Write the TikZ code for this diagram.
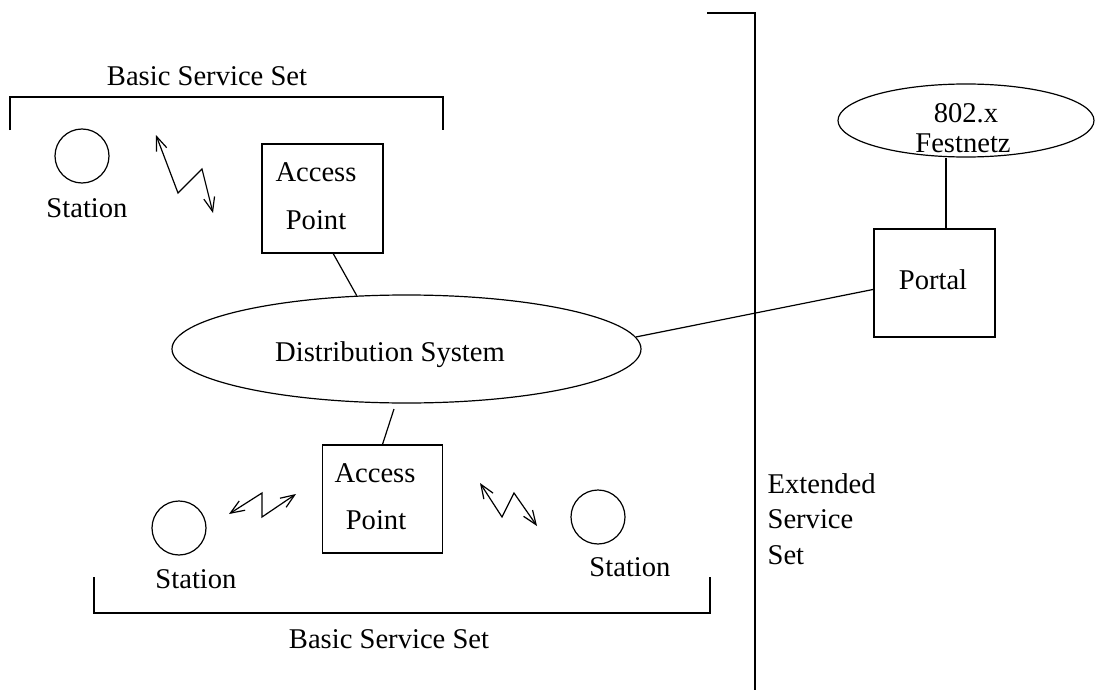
\documentclass[tikz,border=0pt]{standalone}
\usepackage{fontspec}
\setmainfont{Liberation Serif}
\usetikzlibrary{shapes.geometric,arrows.meta}

\begin{document}
\begin{tikzpicture}[x=1pt,y=-1pt,
  line width=1.2pt,
  every node/.style={font=\fontsize{28.6}{34}\selectfont, inner sep=0pt},
  station/.style={draw, circle, minimum size=54pt},
  apbox/.style={draw, rectangle, minimum width=121pt, minimum height=109pt},
  oval/.style={draw, ellipse},
  txt/.style={anchor=base},
  radio/.style={{Straight Barb[length=14pt,width=11pt]}-{Straight Barb[length=14pt,width=11pt]}}
]
\useasboundingbox (0,0) rectangle (1096,693);

% upper basic service set
\draw (10,130) -- (10,97) -- (443,97) -- (443,130);
\node[txt] (bss1) at (207,85) {Basic Service Set};
\node[station] (st1) at (82,156) {};
\node[txt] (st1l) at (87,217) {Station};
\node[apbox] (ap1) at (322.5,198.5) {};
\node[txt] (ap1a) at (316,181) {Access};
\node[txt] (ap1b) at (316,229) {Point};
\draw[radio] (156,135) -- (178,193) -- (202,169) -- (213,213);

% distribution system
\node[oval, minimum width=469pt, minimum height=108pt] (ds) at (406.5,349) {};
\node[txt] (dsl) at (390,361) {Distribution System};
\draw (ap1.-79) -- (ds.133);

% lower basic service set
\node[apbox, minimum width=120pt, minimum height=108pt] (ap2) at (382.5,499) {};
\node[txt] (ap2a) at (375,482) {Access};
\node[txt] (ap2b) at (376,529) {Point};
\coordinate (dsgap) at (394,409);
\draw (ap2.north) -- (dsgap);
\node[station] (st2) at (179,528) {};
\node[txt] (st2l) at (196,588) {Station};
\node[station] (st3) at (598,517) {};
\node[txt] (st3l) at (630,576) {Station};
\draw[radio] (229,514) -- (262,493) -- (262,517) -- (296,494);
\draw[radio] (480,483) -- (502,517) -- (514,493) -- (537,526);
\draw (94,577) -- (94,613) -- (710,613) -- (710,577);
\node[txt] (bss2) at (389,648) {Basic Service Set};

% extended service set boundary
\draw (707,13) -- (755,13) -- (755,690);
\node[txt, anchor=base west] (ess1) at (767,493) {Extended};
\node[txt, anchor=base west] (ess2) at (767,528) {Service};
\node[txt, anchor=base west] (ess3) at (767,564) {Set};

% portal and wired network
\node[draw, rectangle, minimum width=121pt, minimum height=108pt] (portal) at (934.5,283) {};
\node[txt] (portall) at (933,289) {Portal};
\node[oval, minimum width=256pt, minimum height=73pt] (fest) at (966,120.5) {};
\node[txt] (fest1) at (966,122) {802.x};
\node[txt] (fest2) at (963,153) {Festnetz};
\draw (ds.3) -- (portal.186);
\draw ([xshift=11.5pt]portal.north) -- ([xshift=11.5pt]portal.north |- fest.south);
\end{tikzpicture}
\end{document}
